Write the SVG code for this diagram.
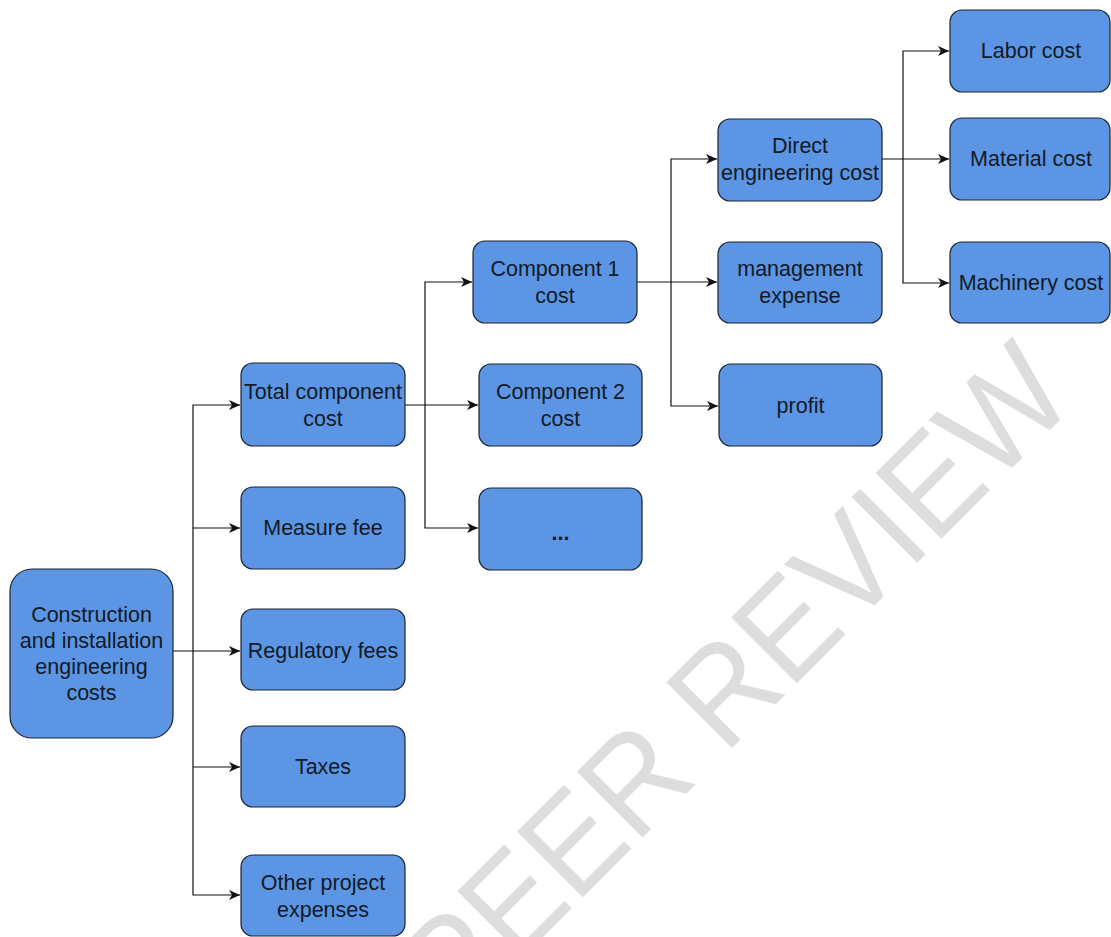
<svg xmlns="http://www.w3.org/2000/svg" width="1111" height="937" viewBox="0 0 1111 937">
<defs>
<style>
.box{fill:#5b95e3;stroke:#1c2433;stroke-width:1.2}
.t{font-family:"Liberation Sans",Arial,sans-serif;font-size:21.5px;fill:#141a26;text-anchor:middle}
.c{fill:none;stroke:#111;stroke-width:1.2}
.wm{font-family:"Liberation Sans",Arial,sans-serif;font-size:135px;fill:#dddddd}
</style>
<marker id="ah" markerUnits="userSpaceOnUse" markerWidth="12" markerHeight="10" refX="11" refY="5" orient="auto">
<path d="M0,0 L11,5 L0,10 L3,5 Z" fill="#111"/>
</marker>
</defs>
<rect width="1111" height="937" fill="#fff"/>
<text class="wm" x="0" y="0" transform="translate(456,1024) rotate(-45)" textLength="880" lengthAdjust="spacingAndGlyphs">PEER REVIEW</text>
<g id="connectors">
<path class="c" d="M173,651 H193 V405 H240" marker-end="url(#ah)"/>
<path class="c" d="M193,528 H240" marker-end="url(#ah)"/>
<path class="c" d="M193,651 H240" marker-end="url(#ah)"/>
<path class="c" d="M193,651 V895 H240" marker-end="url(#ah)"/>
<path class="c" d="M193,767 H240" marker-end="url(#ah)"/>
<path class="c" d="M405,405 H425 V282 H472" marker-end="url(#ah)"/>
<path class="c" d="M425,405 H478" marker-end="url(#ah)"/>
<path class="c" d="M425,405 V528 H478" marker-end="url(#ah)"/>
<path class="c" d="M637,282 H671 V159 H717" marker-end="url(#ah)"/>
<path class="c" d="M671,282 H717" marker-end="url(#ah)"/>
<path class="c" d="M671,282 V406 H718" marker-end="url(#ah)"/>
<path class="c" d="M882,159 H903 V51 H949" marker-end="url(#ah)"/>
<path class="c" d="M903,159 H949" marker-end="url(#ah)"/>
<path class="c" d="M903,159 V283 H949" marker-end="url(#ah)"/>
</g>
<g id="root">
<rect class="box" x="10" y="569" width="163" height="169" rx="22"/>
<text class="t" x="91.5"><tspan x="91.5" y="622">Construction</tspan><tspan x="91.5" y="648">and installation</tspan><tspan x="91.5" y="674">engineering</tspan><tspan x="91.5" y="700">costs</tspan></text>
</g>
<g id="total-component-cost">
<rect class="box" x="241" y="363" width="164" height="83" rx="12"/>
<text class="t"><tspan x="323" y="399">Total component</tspan><tspan x="323" y="426">cost</tspan></text>
</g>
<g id="measure-fee">
<rect class="box" x="241" y="487" width="164" height="82" rx="12"/>
<text class="t" x="323" y="535">Measure fee</text>
</g>
<g id="regulatory-fees">
<rect class="box" x="241" y="609" width="164" height="81" rx="12"/>
<text class="t" x="323" y="658">Regulatory fees</text>
</g>
<g id="taxes">
<rect class="box" x="241" y="726" width="164" height="81" rx="12"/>
<text class="t" x="323" y="774">Taxes</text>
</g>
<g id="other-project-expenses">
<rect class="box" x="241" y="855" width="164" height="81" rx="12"/>
<text class="t"><tspan x="323" y="890">Other project</tspan><tspan x="323" y="917">expenses</tspan></text>
</g>
<g id="component-1-cost">
<rect class="box" x="473" y="241" width="164" height="82" rx="12"/>
<text class="t"><tspan x="555" y="276">Component 1</tspan><tspan x="555" y="303">cost</tspan></text>
</g>
<g id="component-2-cost">
<rect class="box" x="479" y="364" width="163" height="82" rx="12"/>
<text class="t"><tspan x="560.5" y="399">Component 2</tspan><tspan x="560.5" y="426">cost</tspan></text>
</g>
<g id="more-components">
<rect class="box" x="479" y="488" width="163" height="82" rx="12"/>
<text class="t" x="560.5" y="540" style="font-weight:bold">...</text>
</g>
<g id="direct-engineering-cost">
<rect class="box" x="718" y="119" width="164" height="82" rx="12"/>
<text class="t"><tspan x="800" y="153">Direct</tspan><tspan x="800" y="180">engineering cost</tspan></text>
</g>
<g id="management-expense">
<rect class="box" x="718" y="242" width="164" height="81" rx="12"/>
<text class="t"><tspan x="800" y="276">management</tspan><tspan x="800" y="303">expense</tspan></text>
</g>
<g id="profit">
<rect class="box" x="719" y="364" width="163" height="82" rx="12"/>
<text class="t" x="800.5" y="413">profit</text>
</g>
<g id="labor-cost">
<rect class="box" x="950" y="10" width="160" height="82" rx="12"/>
<text class="t" x="1031" y="58">Labor cost</text>
</g>
<g id="material-cost">
<rect class="box" x="950" y="118" width="160" height="82" rx="12"/>
<text class="t" x="1031" y="166">Material cost</text>
</g>
<g id="machinery-cost">
<rect class="box" x="950" y="242" width="160" height="81" rx="12"/>
<text class="t" x="1031" y="290">Machinery cost</text>
</g>
</svg>
